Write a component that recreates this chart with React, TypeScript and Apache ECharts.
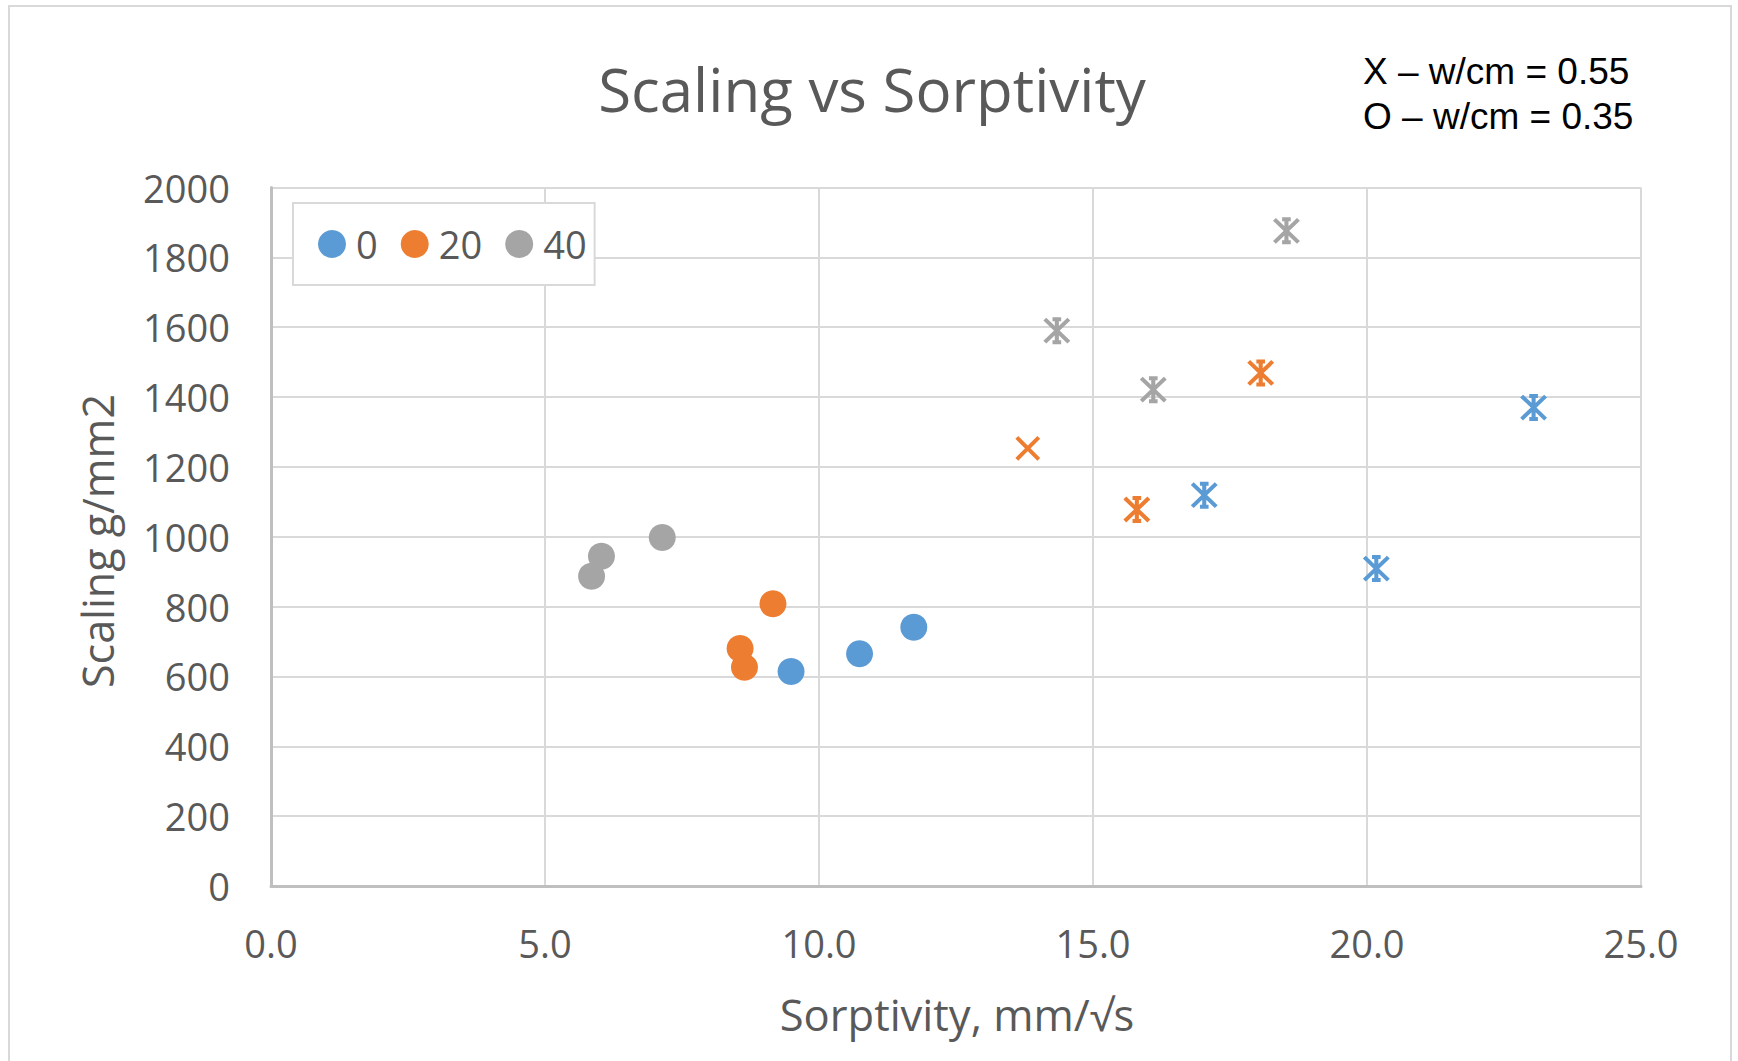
import React, { useEffect, useRef } from "react";
import * as echarts from "echarts";

// ---- data ----
const legendNames = ["0", "20", "40"];
const seriesColors = ["#5B9BD5", "#ED7D31", "#A5A5A5"];

// w/cm = 0.35 (circles)
const circle0: number[][] = [[9.49, 614], [10.74, 665], [11.73, 741]];
const circle20: number[][] = [[8.56, 680], [8.64, 626], [9.16, 808]];
const circle40: number[][] = [[5.85, 887], [6.03, 944], [7.14, 998]];

// w/cm = 0.55 (crosses / stars)
const star0: number[][] = [[17.03, 1119], [20.17, 909], [23.04, 1370]];
const star20: number[][] = [[15.8, 1078], [18.06, 1469]];
const cross20: number[][] = [[13.81, 1253]];
const star40: number[][] = [[14.34, 1590], [16.1, 1421], [18.53, 1876]];

const xTicks = { min: 0, max: 25, interval: 5 };
const yTicks = { min: 0, max: 2000, interval: 200 };

const titleText = "Scaling vs Sorptivity";
const xTitle = "Sorptivity, mm/\u221As";
const yTitle = "Scaling g/mm2";
const noteLines = ["X \u2013 w/cm = 0.55", "O \u2013 w/cm = 0.35"];

const STAR = "path://M0,0L10,10M10,0L0,10M5,0L5,10M3.2,0L6.8,0M3.2,10L6.8,10";
const CROSS = "path://M0,0L10,10M10,0L0,10";

const FONT = "'Open Sans', 'Noto Sans', sans-serif";
const GREY_TEXT = "#595959";

export default function App() {
  const ref = useRef<HTMLDivElement>(null);

  useEffect(() => {
    if (!ref.current) return;
    const chart = echarts.init(ref.current, null, { renderer: "svg" });

    const circleSeries = [circle0, circle20, circle40].map((d, i) => ({
      name: legendNames[i],
      type: "scatter",
      data: d,
      symbol: "circle",
      symbolSize: 27,
      itemStyle: { color: seriesColors[i], opacity: 1 },
      z: 3,
    }));

    const strokeSeries = (name: string, d: number[][], color: string, sym: string, size: number[]) => ({
      name,
      type: "scatter",
      data: d,
      symbol: sym,
      symbolSize: size,
      itemStyle: { color: "rgba(0,0,0,0)", borderColor: color, borderWidth: 4, opacity: 1 },
      z: 3,
    });

    const option: any = {
      animation: false,
      backgroundColor: "#ffffff",
      grid: {
        left: 271,
        top: 187.5,
        right: 97,
        bottom: 175,
        containLabel: false,
        outerBoundsMode: "none",
      },
      legend: {
        data: legendNames.map((n) => ({ name: n, icon: "circle" })),
        left: 293,
        top: 203,
        orient: "horizontal",
        padding: [22, 8, 22, 25],
        itemGap: 23,
        itemWidth: 28,
        itemHeight: 28,
        borderColor: "#d9d9d9",
        borderWidth: 2,
        backgroundColor: "#ffffff",
        textStyle: { fontSize: 38, color: GREY_TEXT, fontFamily: FONT, padding: [0, 0, 0, 5] },
        selectedMode: false,
      },
      xAxis: {
        type: "value",
        min: xTicks.min,
        max: xTicks.max,
        interval: xTicks.interval,
        axisLine: { show: true, lineStyle: { color: "#bfbfbf", width: 3 } },
        axisTick: { show: false },
        axisLabel: {
          fontSize: 38,
          color: GREY_TEXT,
          fontFamily: FONT,
          margin: 38,
          formatter: (v: number) => v.toFixed(1),
        },
        splitLine: { show: true, lineStyle: { color: "#d9d9d9", width: 2 } },
      },
      yAxis: {
        type: "value",
        min: yTicks.min,
        max: yTicks.max,
        interval: yTicks.interval,
        axisLine: { show: true, lineStyle: { color: "#bfbfbf", width: 3 } },
        axisTick: { show: false },
        axisLabel: {
          fontSize: 38,
          color: GREY_TEXT,
          fontFamily: FONT,
          margin: 41,
          formatter: (v: number) => String(v),
        },
        splitLine: { show: true, lineStyle: { color: "#d9d9d9", width: 2 } },
      },
      series: [
        ...circleSeries,
        strokeSeries("0 (w/cm 0.55)", star0, seriesColors[0], STAR, [24, 23]),
        strokeSeries("20 (w/cm 0.55)", star20, seriesColors[1], STAR, [24, 23]),
        strokeSeries("20 (w/cm 0.55) x", cross20, seriesColors[1], CROSS, [22, 22]),
        strokeSeries("40 (w/cm 0.55)", star40, seriesColors[2], STAR, [24, 23]),
      ],
      graphic: [
        {
          type: "rect",
          z: -10,
          shape: { x: 9, y: 6, width: 1722, height: 1120 },
          style: { fill: "none", stroke: "#d9d9d9", lineWidth: 2 },
          silent: true,
        },
        {
          type: "text",
          x: 872,
          y: 89,
          style: {
            text: titleText,
            fontSize: 60,
            fontFamily: FONT,
            fill: GREY_TEXT,
            align: "center",
            verticalAlign: "middle",
          },
        },
        {
          type: "text",
          x: 957,
          y: 1014,
          style: {
            text: xTitle,
            fontSize: 43.5,
            fontFamily: FONT,
            fill: GREY_TEXT,
            align: "center",
            verticalAlign: "middle",
          },
        },
        {
          type: "text",
          x: 97,
          y: 541,
          rotation: Math.PI / 2,
          style: {
            text: yTitle,
            fontSize: 43,
            fontFamily: FONT,
            fill: GREY_TEXT,
            align: "center",
            verticalAlign: "middle",
          },
        },
        ...noteLines.map((t, i) => ({
          type: "text",
          x: 1363,
          y: 71 + i * 45,
          style: {
            text: t,
            fontSize: 37,
            fontFamily: "'Liberation Sans', Arial, sans-serif",
            fill: "#000000",
            align: "left",
            verticalAlign: "middle",
          },
        })),
      ],
    };

    chart.setOption(option);
    return () => chart.dispose();
  }, []);

  return (
    <div
      ref={ref}
      style={{ position: "fixed", left: 0, top: 0, width: 1738, height: 1061, background: "#fff" }}
    />
  );
}
